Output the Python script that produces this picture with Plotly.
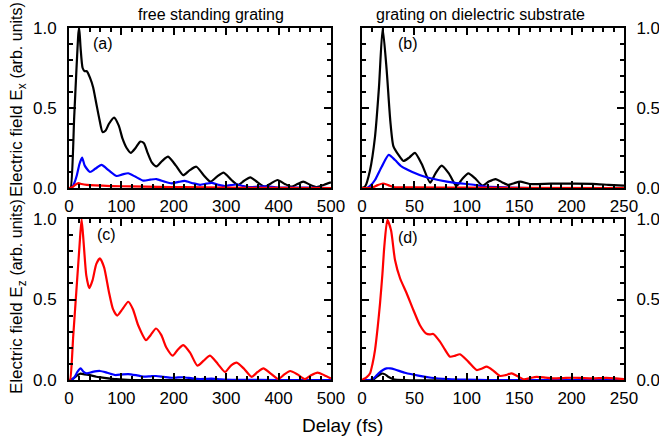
import plotly.graph_objects as go

# ---------------- data ----------------
# (a) free standing grating, Ex
a_black_t = [0, 3, 10, 18, 19.5, 22, 26, 30, 34, 40, 46, 52, 58, 64, 70, 76, 86, 95, 102, 110, 118, 127, 136, 143, 150, 158, 167, 178, 189, 204, 218, 230, 243, 257, 270, 282, 295, 310, 323, 334, 346, 360, 374, 386, 398, 412, 425, 436, 447, 460, 473, 487, 500]
a_black_v = [0, 0, 0.45, 0.97, 1.0, 0.88, 0.75, 0.73, 0.73, 0.69, 0.63, 0.53, 0.43, 0.35, 0.36, 0.40, 0.44, 0.39, 0.31, 0.25, 0.22, 0.25, 0.29, 0.28, 0.22, 0.16, 0.135, 0.17, 0.196, 0.14, 0.08, 0.11, 0.133, 0.08, 0.04, 0.07, 0.096, 0.05, 0.019, 0.045, 0.067, 0.035, 0.008, 0.03, 0.05, 0.025, 0.008, 0.025, 0.04, 0.02, 0.006, 0.02, 0.035]
a_blue_t = [0, 5, 10, 15, 20, 25, 30, 40, 50, 62, 76, 91, 102, 113, 127, 142, 155, 167, 182, 196, 209, 221, 236, 250, 262, 272, 285, 297, 309, 320, 333, 345, 360, 375, 400, 450, 500]
a_blue_v = [0, 0, 0.03, 0.08, 0.15, 0.19, 0.14, 0.10, 0.12, 0.144, 0.11, 0.075, 0.085, 0.092, 0.07, 0.046, 0.052, 0.056, 0.04, 0.029, 0.038, 0.044, 0.03, 0.02, 0.027, 0.032, 0.02, 0.012, 0.018, 0.022, 0.012, 0.006, 0.008, 0.01, 0.003, 0.002, 0.0]
a_red_t = [0, 6, 12, 18, 24, 34, 50, 80, 120, 170, 220, 300, 400, 500]
a_red_v = [0, 0.005, 0.02, 0.03, 0.025, 0.02, 0.016, 0.012, 0.01, 0.007, 0.005, 0.002, 0.001, 0]

# (b) grating on dielectric substrate, Ex
b_black_t = [0, 3, 7.6, 12.4, 16.2, 19.7, 23.5, 27, 30, 35, 39.5, 45, 50.5, 57, 65, 70, 76, 83, 90, 96, 101.5, 108, 115, 121, 127.5, 134, 139.6, 145, 151, 160, 180, 200, 220, 235, 250]
b_black_v = [0, 0.01, 0.11, 0.32, 0.63, 1.0, 0.74, 0.42, 0.26, 0.205, 0.169, 0.19, 0.22, 0.15, 0.033, 0.09, 0.14, 0.09, 0.013, 0.06, 0.092, 0.06, 0.015, 0.04, 0.056, 0.035, 0.019, 0.03, 0.04, 0.025, 0.027, 0.027, 0.026, 0.02, 0.015]
b_blue_t = [0, 4.5, 8, 12.4, 18.8, 25.5, 31.5, 38, 48, 60, 72.8, 88.7, 104.6, 119, 140, 160, 250]
b_blue_v = [0, 0, 0.015, 0.05, 0.133, 0.207, 0.175, 0.133, 0.10, 0.07, 0.05, 0.032, 0.022, 0.008, 0.003, 0, 0]
b_red_t = [0, 10, 15, 20, 25, 30, 50, 100, 250]
b_red_v = [0, 0.003, 0.018, 0.028, 0.018, 0.006, 0.004, 0.002, 0]

# (c) free standing grating, Ez
c_red_t = [0, 2, 8, 14, 20, 24, 28, 33, 38.8, 45, 52, 59, 67, 76, 84, 92, 102, 113, 122, 132, 147, 156, 166, 176, 186, 198, 208, 218, 231, 245, 257, 269, 284, 298, 309, 320, 334, 348.5, 360, 371, 385, 399.5, 411, 422, 436, 450, 462, 474.6, 487, 500]
c_red_v = [0, 0, 0.27, 0.55, 0.83, 1.0, 0.85, 0.65, 0.57, 0.62, 0.72, 0.756, 0.70, 0.55, 0.44, 0.40, 0.44, 0.486, 0.44, 0.34, 0.248, 0.28, 0.32, 0.28, 0.2, 0.151, 0.19, 0.217, 0.17, 0.089, 0.12, 0.151, 0.1, 0.05, 0.09, 0.108, 0.07, 0.02, 0.05, 0.072, 0.04, 0.006, 0.035, 0.056, 0.035, 0.006, 0.03, 0.046, 0.03, 0.01]
c_blue_t = [0, 4, 10, 16, 22, 28, 34, 45, 59, 73, 88, 100, 113, 128, 142, 155, 166, 180, 196, 208, 218, 235, 250, 262, 272, 290, 320, 400, 500]
c_blue_v = [0, 0, 0.015, 0.05, 0.072, 0.05, 0.041, 0.05, 0.056, 0.045, 0.031, 0.034, 0.037, 0.03, 0.021, 0.023, 0.025, 0.02, 0.014, 0.016, 0.017, 0.01, 0.006, 0.007, 0.008, 0.004, 0.001, 0, 0]
c_black_t = [0, 6, 14, 22, 30, 40, 52, 64, 90, 120, 500]
c_black_v = [0, 0.005, 0.025, 0.04, 0.035, 0.03, 0.02, 0.015, 0.005, 0, 0]

# (d) grating on dielectric substrate, Ez
d_red_t = [0, 1.3, 4, 7.6, 10, 12.4, 15, 17.2, 19.5, 21.3, 24.2, 27.7, 31.5, 36.3, 42.6, 49, 55.3, 61, 64.5, 68, 74.4, 79, 84, 88.5, 93.5, 101.4, 109.4, 114, 119, 125, 131.7, 137, 142.8, 148, 154.6, 160, 166.7, 175, 182, 192, 201, 210, 220, 233, 242, 250]
d_red_v = [0, 0.005, 0.015, 0.04, 0.1, 0.186, 0.33, 0.476, 0.66, 0.83, 0.994, 0.93, 0.745, 0.632, 0.539, 0.435, 0.34, 0.29, 0.283, 0.286, 0.238, 0.19, 0.145, 0.15, 0.16, 0.114, 0.062, 0.07, 0.083, 0.06, 0.025, 0.03, 0.041, 0.025, 0.004, 0.012, 0.02, 0.015, 0.01, 0.012, 0.014, 0.012, 0.01, 0.013, 0.01, 0.005]
d_blue_t = [0, 7.6, 12, 15.6, 20, 23.5, 27, 31.5, 41, 53.7, 66, 82, 98, 120, 250]
d_blue_v = [0, 0, 0.015, 0.04, 0.062, 0.072, 0.072, 0.065, 0.045, 0.027, 0.014, 0.006, 0.002, 0, 0]
d_black_t = [0, 10, 14, 18.8, 22, 25, 30, 40, 250]
d_black_v = [0, 0, 0.02, 0.04, 0.035, 0.02, 0.005, 0, 0]

panel_labels = ["(a)", "(b)", "(c)", "(d)"]
column_titles = ["free standing grating", "grating on dielectric substrate"]
x_ticks_left = [0, 100, 200, 300, 400, 500]
x_ticks_right = [0, 50, 100, 150, 200, 250]
y_ticks = [0.0, 0.5, 1.0]

# ---------------- figure ----------------
W, H = 659, 441
FONT = "Liberation Sans, Arial, sans-serif"
BLACK, BLUE, RED = "#000000", "#0000ff", "#ff0000"


def px(x):
    return x / W


def py(y):
    return 1 - y / H


fig = go.Figure()

series = [
    ("x", "y", [(a_black_t, a_black_v, BLACK), (a_blue_t, a_blue_v, BLUE), (a_red_t, a_red_v, RED)]),
    ("x2", "y2", [(b_black_t, b_black_v, BLACK), (b_blue_t, b_blue_v, BLUE), (b_red_t, b_red_v, RED)]),
    ("x3", "y3", [(c_black_t, c_black_v, BLACK), (c_blue_t, c_blue_v, BLUE), (c_red_t, c_red_v, RED)]),
    ("x4", "y4", [(d_black_t, d_black_v, BLACK), (d_blue_t, d_blue_v, BLUE), (d_red_t, d_red_v, RED)]),
]
for xa, ya, lines in series:
    for t, v, c in lines:
        fig.add_trace(go.Scatter(x=t, y=v, xaxis=xa, yaxis=ya, mode="lines",
                                 line=dict(color=c, width=2.2, shape="spline", smoothing=0.6),
                                 showlegend=False, hoverinfo="skip"))

xdom_l = [px(69), px(331)]
xdom_r = [px(362), px(624)]
ydom_t = [py(188), py(28)]
ydom_b = [py(380), py(219)]

tickfont = dict(family=FONT, size=17, color="black")


def xaxis(dom, anchor, ticks_vals, minor_dt, rng):
    return dict(domain=dom, anchor=anchor, range=rng, tickvals=ticks_vals, automargin=False,
                ticks="inside", ticklen=7, tickwidth=2, tickcolor="black",
                minor=dict(dtick=minor_dt, tick0=0, ticks="inside", ticklen=4, tickwidth=1.5, tickcolor="black"),
                showline=True, linewidth=2, linecolor="black", mirror="ticks",
                showgrid=False, zeroline=False, tickfont=tickfont, ticklabelstandoff=2)


def yaxis(dom, anchor, side):
    return dict(domain=dom, anchor=anchor, range=[0, 1], tickvals=y_ticks, tickformat=".1f", automargin=False,
                side=side, ticks="inside", ticklen=7, tickwidth=2, tickcolor="black",
                minor=dict(dtick=0.1, tick0=0, ticks="inside", ticklen=4, tickwidth=1.5, tickcolor="black"),
                showline=True, linewidth=2, linecolor="black", mirror="ticks",
                showgrid=False, zeroline=False, tickfont=tickfont, ticklabelstandoff=7)


def yout(over, anchor, side):
    return dict(overlaying=over, anchor=anchor, side=side, range=[0, 1], tickvals=y_ticks, automargin=False,
                ticks="outside", ticklen=5, tickwidth=2, tickcolor="black",
                showticklabels=False, showline=False, showgrid=False, zeroline=False)


fig.update_layout(
    width=W, height=H, margin=dict(l=0, r=0, t=0, b=0, autoexpand=False),
    paper_bgcolor="white", plot_bgcolor="white",
    font=dict(family=FONT, color="black"),
    xaxis=xaxis(xdom_l, "y", x_ticks_left, 20, [0, 500]),
    yaxis=yaxis(ydom_t, "x", "left"),
    xaxis2=xaxis(xdom_r, "y2", x_ticks_right, 10, [0, 250]),
    yaxis2=yaxis(ydom_t, "x2", "right"),
    xaxis3=xaxis(xdom_l, "y3", x_ticks_left, 20, [0, 500]),
    yaxis3=yaxis(ydom_b, "x3", "left"),
    xaxis4=xaxis(xdom_r, "y4", x_ticks_right, 10, [0, 250]),
    yaxis4=yaxis(ydom_b, "x4", "right"),
    yaxis5=yout("y", "x", "left"),
    yaxis6=yout("y2", "x2", "right"),
    yaxis7=yout("y3", "x3", "left"),
    yaxis8=yout("y4", "x4", "right"),
)

ann = []
# column titles
ann.append(dict(text=column_titles[0], x=px(211), y=py(14), xref="paper", yref="paper",
                showarrow=False, xanchor="center", yanchor="middle", font=dict(size=16)))
ann.append(dict(text=column_titles[1], x=px(480), y=py(14), xref="paper", yref="paper",
                showarrow=False, xanchor="center", yanchor="middle", font=dict(size=16)))
# panel labels
for lab, (x, y) in zip(panel_labels, [(103, 43), (408, 43), (107, 235), (408, 237)]):
    ann.append(dict(text=lab, x=px(x), y=py(y), xref="paper", yref="paper", showarrow=False,
                    xanchor="center", yanchor="middle", font=dict(size=16)))
# y titles
for sub, yc in [("x", 100), ("z", 297)]:
    ann.append(dict(text="Electric field E<sub>%s</sub> <span style='font-size:16px'>(arb. units)</span>" % sub,
                    x=px(18), y=py(yc), xref="paper", yref="paper", showarrow=False, textangle=-90,
                    xanchor="center", yanchor="middle", font=dict(size=17)))
# x title
ann.append(dict(text="Delay (fs)", x=px(342), y=py(425), xref="paper", yref="paper", showarrow=False,
                xanchor="center", yanchor="middle", font=dict(size=19)))
fig.update_layout(annotations=ann)

fig.write_html("out.html", config={"displayModeBar": False},
               post_script="document.body.style.margin='0';document.body.style.overflow='hidden';")
